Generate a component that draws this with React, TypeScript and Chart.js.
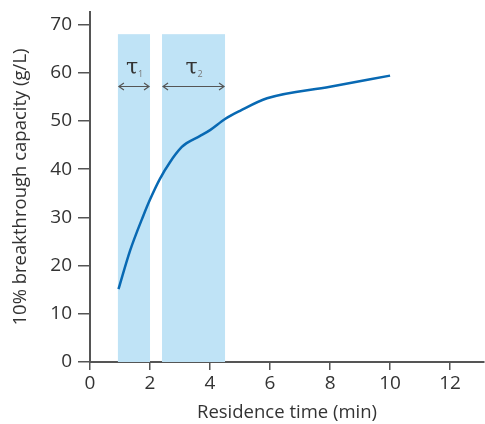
import React, { useEffect, useRef } from "react";
import { Chart, registerables } from "chart.js";

Chart.register(...registerables);

const residenceTime = [0.95, 1.33, 1.78, 2.0, 2.33, 2.67, 3.06, 3.22, 3.67, 4.0, 4.5, 5.0, 5.9, 8.0, 10];
const capacity = [15.1, 23.0, 30.4, 33.7, 38.0, 41.5, 44.6, 45.4, 46.9, 48.1, 50.4, 52.1, 54.7, 57.1, 59.4];
const xTicks = [0, 2, 4, 6, 8, 10, 12];
const yTicks = [0, 10, 20, 30, 40, 50, 60, 70];
const bandStarts = [0.93, 2.4];
const bandEnds = [2.0, 4.5];
const bandTop = 68;
const bandLabels = ["1", "2"];
const arrowValue = 57.3;
const labelValue = 60.7;

const FONT = "'Open Sans', 'DejaVu Sans', sans-serif";

const bandPlugin = {
  id: "bands",
  beforeDatasetsDraw(chart: any) {
    const { ctx, scales } = chart;
    const x = scales.x;
    const y = scales.y;
    ctx.save();
    for (let i = 0; i < bandStarts.length; i++) {
      const x0 = x.getPixelForValue(bandStarts[i]);
      const x1 = x.getPixelForValue(bandEnds[i]);
      const y0 = y.getPixelForValue(bandTop);
      const y1 = y.getPixelForValue(0);
      ctx.fillStyle = "#bfe3f6";
      ctx.fillRect(x0, y0, x1 - x0, y1 - y0);
      const ay = Math.round(y.getPixelForValue(arrowValue)) + 0.5;
      const ax0 = x0 + 1;
      const ax1 = x1 - 1;
      ctx.strokeStyle = "#555";
      ctx.lineWidth = 1.2;
      ctx.beginPath();
      ctx.moveTo(ax0, ay);
      ctx.lineTo(ax1, ay);
      ctx.moveTo(ax0 + 5, ay - 3.5);
      ctx.lineTo(ax0, ay);
      ctx.lineTo(ax0 + 5, ay + 3.5);
      ctx.moveTo(ax1 - 5, ay - 3.5);
      ctx.lineTo(ax1, ay);
      ctx.lineTo(ax1 - 5, ay + 3.5);
      ctx.stroke();
      const cx = (x0 + x1) / 2;
      const ly = y.getPixelForValue(labelValue);
      ctx.fillStyle = "#333";
      ctx.font = `22px 'DejaVu Serif', serif`;
      ctx.textAlign = "center";
      ctx.textBaseline = "alphabetic";
      ctx.fillText("τ", cx - 2, ly + 5);
      ctx.fillStyle = "#777";
      ctx.font = `9px ${FONT}`;
      ctx.textAlign = "left";
      ctx.fillText(bandLabels[i], cx + 4, ly + 8);
    }
    ctx.restore();
  },
};

export default function App() {
  const ref = useRef<HTMLCanvasElement | null>(null);
  useEffect(() => {
    if (!ref.current) return;
    const chart = new Chart(ref.current, {
      type: "line",
      data: {
        datasets: [
          {
            data: residenceTime.map((t, i) => ({ x: t, y: capacity[i] })),
            borderColor: "#0869b3",
            borderWidth: 2.5,
            pointRadius: 0,
            cubicInterpolationMode: "monotone",
            fill: false,
          },
        ],
      },
      options: {
        animation: false,
        responsive: false,
        maintainAspectRatio: false,
        layout: { padding: { top: 12, right: 1, left: 0, bottom: 0 } },
        plugins: { legend: { display: false }, tooltip: { enabled: false } },
        scales: {
          x: {
            type: "linear",
            min: 0,
            max: 13.13,
            afterBuildTicks: (s: any) => {
              s.ticks = xTicks.map((v) => ({ value: v }));
            },
            afterFit: (s: any) => {
              s.height = 62;
              s.paddingLeft = 0;
              s.paddingRight = 0;
            },
            grid: {
              drawOnChartArea: false,
              drawTicks: true,
              tickLength: 8,
              color: "#555",
              lineWidth: 1.5,
            },
            border: { display: true, color: "#555", width: 2 },
            ticks: {
              color: "#333",
              font: { family: FONT, size: 19 },
              padding: 2,
              maxRotation: 0,
            },
            title: {
              display: true,
              text: "Residence time (min)",
              color: "#333",
              font: { family: FONT, size: 18.5 },
              padding: { top: 0, bottom: 0 },
            },
          },
          y: {
            type: "linear",
            min: 0,
            max: 72.6,
            afterBuildTicks: (s: any) => {
              s.ticks = yTicks.map((v) => ({ value: v }));
            },
            afterFit: (s: any) => {
              s.width = 90;
              s.paddingTop = 0;
              s.paddingBottom = 0;
            },
            grid: {
              drawOnChartArea: false,
              drawTicks: true,
              tickLength: 12,
              color: "#555",
              lineWidth: 1.5,
            },
            border: { display: true, color: "#555", width: 2 },
            ticks: {
              color: "#333",
              font: { family: FONT, size: 19 },
              padding: 6,
            },
            title: {
              display: true,
              text: "10% breakthrough capacity (g/L)",
              color: "#333",
              font: { family: FONT, size: 18.5 },
              padding: { top: 10, bottom: 0 },
            },
          },
        },
      },
      plugins: [bandPlugin],
    } as any);
    return () => chart.destroy();
  }, []);
  return (
    <div style={{ position: "fixed", left: 0, top: 0, width: 485, height: 424, background: "#fff" }}>
      <canvas ref={ref} width={485} height={424} style={{ width: 485, height: 424, display: "block" }} />
    </div>
  );
}
